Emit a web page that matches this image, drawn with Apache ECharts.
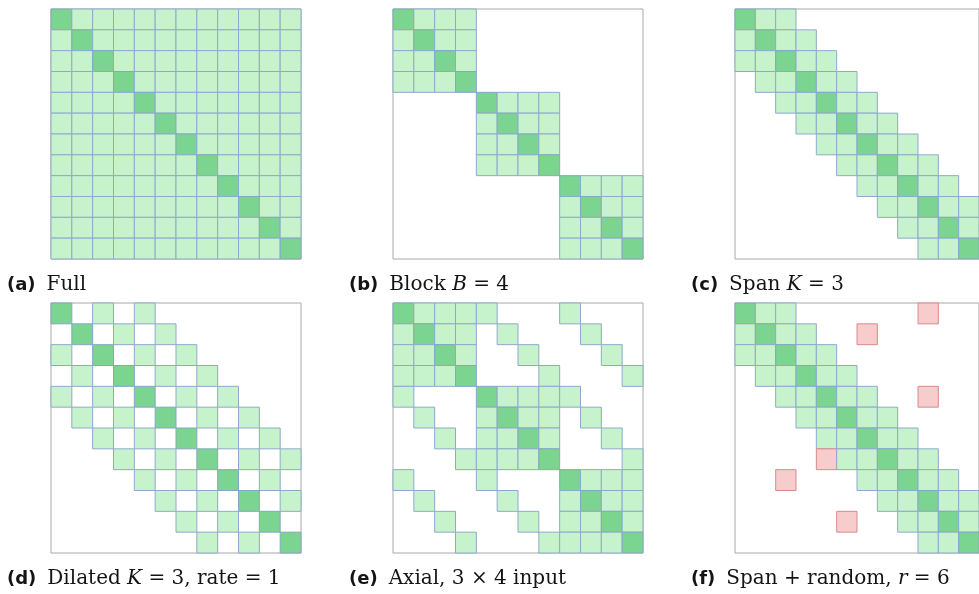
<!DOCTYPE html>
<html>
<head>
<meta charset="utf-8">
<script src="https://cdn.jsdelivr.net/npm/echarts@6/dist/echarts.min.js"></script>
<style>
  html, body { margin: 0; padding: 0; background: #ffffff; }
  #chart { width: 979px; height: 594px; }
</style>
</head>
<body>
<div id="chart"></div>
<script>
// Attention masks over 12 tokens. Each string is one query row:
// 'D' = the token itself, '1' = attended, 'R' = random extra link, '.' = masked out.
const tokens = ['0','1','2','3','4','5','6','7','8','9','10','11'];

const maskFull = [
  'D11111111111',
  '1D1111111111',
  '11D111111111',
  '111D11111111',
  '1111D1111111',
  '11111D111111',
  '111111D11111',
  '1111111D1111',
  '11111111D111',
  '111111111D11',
  '1111111111D1',
  '11111111111D'
];

const maskBlock = [
  'D111........',
  '1D11........',
  '11D1........',
  '111D........',
  '....D111....',
  '....1D11....',
  '....11D1....',
  '....111D....',
  '........D111',
  '........1D11',
  '........11D1',
  '........111D'
];

const maskSpan = [
  'D11.........',
  '1D11........',
  '11D11.......',
  '.11D11......',
  '..11D11.....',
  '...11D11....',
  '....11D11...',
  '.....11D11..',
  '......11D11.',
  '.......11D11',
  '........11D1',
  '.........11D'
];

const maskDilated = [
  'D.1.1.......',
  '.D.1.1......',
  '1.D.1.1.....',
  '.1.D.1.1....',
  '1.1.D.1.1...',
  '.1.1.D.1.1..',
  '..1.1.D.1.1.',
  '...1.1.D.1.1',
  '....1.1.D.1.',
  '.....1.1.D.1',
  '......1.1.D.',
  '.......1.1.D'
];

const maskAxial = [
  'D1111...1...',
  '1D11.1...1..',
  '11D1..1...1.',
  '111D...1...1',
  '1...D1111...',
  '.1..1D11.1..',
  '..1.11D1..1.',
  '...1111D...1',
  '1...1...D111',
  '.1...1..1D11',
  '..1...1.11D1',
  '...1...1111D'
];

const maskSpanRandom = [
  'D11......R..',
  '1D11..R.....',
  '11D11.......',
  '.11D11......',
  '..11D11..R..',
  '...11D11....',
  '....11D11...',
  '....R11D11..',
  '..R...11D11.',
  '.......11D11',
  '.....R..11D1',
  '.........11D'
];

const panels = [
  { tag: '(a)', caption: '{t|Full}', mask: maskFull },
  { tag: '(b)', caption: '{t|Block }{i|B}{t| = 4}', mask: maskBlock },
  { tag: '(c)', caption: '{t|Span }{i|K}{t| = 3}', mask: maskSpan },
  { tag: '(d)', caption: '{t|Dilated }{i|K}{t| = 3, rate = 1}', mask: maskDilated },
  { tag: '(e)', caption: '{t|Axial, 3 × 4 input}', mask: maskAxial },
  { tag: '(f)', caption: '{t|Span + random, }{i|r}{t| = 6}', mask: maskSpanRandom }
];

// Layout of the 2 x 3 panel arrangement
const colLeft = [51, 393, 735];
const rowTop = [9, 303];
const side = 250;

const cellStyle = {
  D: { fill: '#7bd48f', stroke: '#86a6c6' },
  '1': { fill: '#c6f3cb', stroke: '#8ea9cb' },
  R: { fill: '#f7cccc', stroke: '#d98a8a' }
};

function maskToData(mask) {
  const out = [];
  mask.forEach((row, r) => {
    row.split('').forEach((ch, c) => {
      if (ch !== '.') out.push([c, r, ch]);
    });
  });
  return out;
}

const grids = [], xAxes = [], yAxes = [], series = [], titles = [];

const textColor = '#141414';
const richStyles = {
  b: { fontFamily: 'DejaVu Sans', fontWeight: 'bold', fontSize: 18, color: textColor, lineHeight: 24, padding: [0, 11, 0, 0] },
  t: { fontFamily: 'DejaVu Serif', fontWeight: 'normal', fontSize: 20, color: textColor, lineHeight: 24 },
  i: { fontFamily: 'DejaVu Serif', fontWeight: 'normal', fontStyle: 'italic', fontSize: 20, color: textColor, lineHeight: 24 }
};

panels.forEach((p, k) => {
  const col = k % 3, row = Math.floor(k / 3);
  grids.push({
    left: colLeft[col], top: rowTop[row], width: side, height: side,
    show: true, borderColor: '#a8a8a8', borderWidth: 1, backgroundColor: '#ffffff'
  });
  xAxes.push({
    type: 'category', data: tokens, gridIndex: k, boundaryGap: true,
    axisLine: { show: false }, axisTick: { show: false },
    axisLabel: { show: false }, splitLine: { show: false }
  });
  yAxes.push({
    type: 'category', data: tokens, gridIndex: k, inverse: true, boundaryGap: true,
    axisLine: { show: false }, axisTick: { show: false },
    axisLabel: { show: false }, splitLine: { show: false }
  });
  series.push({
    type: 'custom',
    xAxisIndex: k, yAxisIndex: k,
    data: maskToData(p.mask),
    renderItem: function (params, api) {
      const c = api.coord([api.value(0), api.value(1)]);
      const s = api.size([1, 1]);
      const st = cellStyle[api.value(2)];
      return {
        type: 'rect',
        shape: { x: c[0] - s[0] / 2, y: c[1] - s[1] / 2, width: s[0], height: s[1] },
        style: { fill: st.fill, stroke: st.stroke, lineWidth: 1 }
      };
    },
    encode: { x: 0, y: 1 },
    silent: true,
    animation: false
  });
  titles.push({
    text: '{b|' + p.tag + '}' + p.caption,
    left: colLeft[col] - 44,
    top: rowTop[row] + side + 14,
    padding: 0,
    textStyle: { fontWeight: 'normal', rich: richStyles }
  });
});

const chart = echarts.init(document.getElementById('chart'), null, { renderer: 'canvas' });
chart.setOption({
  animation: false,
  backgroundColor: '#ffffff',
  title: titles,
  grid: grids,
  xAxis: xAxes,
  yAxis: yAxes,
  series: series
});
</script>
</body>
</html>
